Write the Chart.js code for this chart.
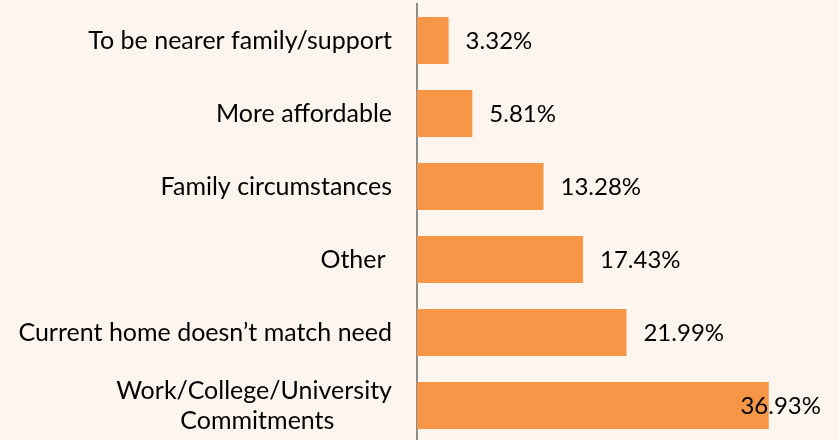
<!DOCTYPE html>
<html>
<head>
<meta charset="utf-8">
<script src="https://cdn.jsdelivr.net/npm/chart.js@4"></script>
<style>
  html, body { margin: 0; padding: 0; background: #fef5ef; overflow: hidden; }
  #wrap { width: 839px; height: 446px; }
</style>
</head>
<body>
<div id="wrap"><canvas id="reasonChart" width="839" height="446"></canvas></div>
<script>
// trailing spaces on the second line keep it centred under the first, as in the original
const labels = [
    "To be nearer family/support",
    "More affordable",
    "Family circumstances",
    "Other ",
    "Current home doesn\u2019t match need",
    ["Work/College/University", "Commitments         "],
];
const values = [3.32, 5.81, 13.28, 17.43, 21.99, 36.93];
const valueLabels = ["3.32%", "5.81%", "13.28%", "17.43%", "21.99%", "36.93%"];

const FONT = "Lato";

// percent labels just past the bar end, kept inside the right edge like Excel does
const barValueLabels = {
    id: "barValueLabels",
    afterDatasetsDraw(chart) {
        const ctx = chart.ctx;
        const meta = chart.getDatasetMeta(0);
        ctx.save();
        ctx.font = "24px " + FONT;
        ctx.fillStyle = "#000";
        ctx.textBaseline = "middle";
        ctx.textAlign = "left";
        meta.data.forEach((bar, i) => {
            const text = valueLabels[i];
            const w = ctx.measureText(text).width;
            let x = bar.x + 17;
            if (x + w > 821) x = 821 - w;
            ctx.fillText(text, x, bar.y + 1);
        });
        ctx.restore();
    },
};

new Chart(document.getElementById("reasonChart"), {
    type: "bar",
    data: {
        labels: labels,
        datasets: [
            {
                data: values,
                backgroundColor: "#f79646",
                borderWidth: 0,
                categoryPercentage: 1,
                barPercentage: 0.645,
            },
        ],
    },
    options: {
        indexAxis: "y",
        responsive: false,
        animation: false,
        layout: { padding: { top: 4, bottom: 4, left: 0, right: 41 } },
        plugins: {
            legend: { display: false },
            tooltip: { enabled: false },
        },
        scales: {
            x: {
                display: false,
                min: 0,
                max: 40,
            },
            y: {
                grid: { display: false, drawTicks: false },
                border: { display: true, color: "#8c8c8c", width: 2 },
                ticks: {
                    color: "#000",
                    padding: 25,
                    font: { family: FONT, size: 25, lineHeight: 1.2 },
                },
                afterFit(scale) {
                    scale.width = 417;
                    scale.paddingTop = 0;
                    scale.paddingBottom = 0;
                },
            },
        },
    },
    plugins: [barValueLabels],
});
</script>
</body>
</html>
